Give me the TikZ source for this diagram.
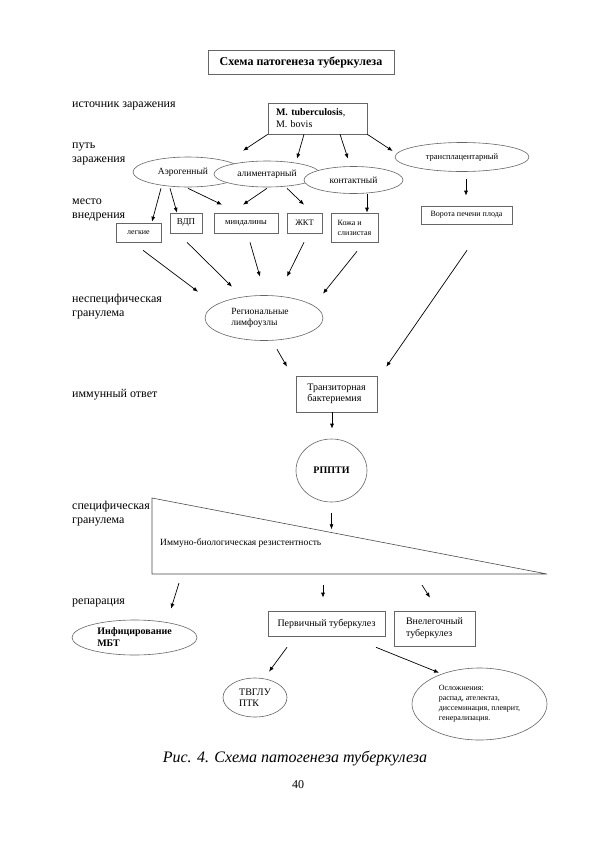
\documentclass[tikz,border=0pt]{standalone}
\usepackage{fontspec}
\setmainfont{Liberation Serif}
\usetikzlibrary{shapes.geometric,arrows.meta,calc}
\newcommand{\fsz}[2]{\fontsize{#1}{#2}\selectfont}
\begin{document}
\begin{tikzpicture}[x=1pt,y=-1pt,
  shp/.style={draw=black!60, line width=0.6pt, fill=white, inner sep=0pt},
  box/.style={shp, rectangle},
  ell/.style={shp, ellipse},
  arr/.style={-{Latex[length=5pt,width=4pt]}, line width=0.7pt},
  lbl/.style={anchor=west, inner sep=0pt, align=left, font=\fsz{12}{14}}]
\useasboundingbox[fill=white] (0,0) rectangle (594,841);

% title
\node[box, minimum width=186, minimum height=24, font=\bfseries\fsz{12}{14}] (title) at (301,62) {Схема патогенеза туберкулеза};

% left labels
\node[lbl] (l1) at (72,106) {источник заражения};
\node[lbl] (l2) at (72,154.5) {путь\\заражения};
\node[lbl] (l3) at (72,210) {место\\внедрения};
\node[lbl] (l4) at (72,306.5) {неспецифическая\\гранулема};
\node[lbl] (l5) at (72,395) {иммунный ответ};
\node[lbl] (l6) at (72,513.5) {специфическая\\гранулема};
\node[lbl] (l7) at (72,603) {репарация};

% source
\node[box, minimum width=99, minimum height=31, text width=83pt, align=left, inner xsep=8pt, font=\fsz{10}{12}] (m) at (317.5,118.5) {\textbf{M. tuberculosis}, \\M. bovis};

% routes
\node[ell, minimum width=110, minimum height=30, font=\fsz{9.5}{11}] (aer) at (188,172) {\hspace*{-10pt}Аэрогенный};
\node[ell, minimum width=106, minimum height=26, font=\fsz{9.5}{11}] (alim) at (267,174) {алиментарный};
\node[ell, minimum width=99, minimum height=27, font=\fsz{9.5}{11}] (kont) at (353.5,180) {контактный};
\node[ell, minimum width=134, minimum height=29, font=\fsz{8.5}{10}] (tr) at (462,157) {трансплацентарный};

% sites
\node[box, minimum width=45, minimum height=19, font=\fsz{8}{9.5}] (leg) at (138.5,232.5) {легкие};
\node[box, minimum width=32, minimum height=20, font=\fsz{9}{10.5}] (vdp) at (186,223) {ВДП};
\node[box, minimum width=64, minimum height=20, font=\fsz{8.5}{10}] (mind) at (246,223) {миндалины};
\node[box, minimum width=35, minimum height=20, font=\fsz{8.5}{10}] (zkt) at (304.5,223) {ЖКТ};
\node[box, minimum width=47, minimum height=29, align=left, font=\fsz{8}{10}] (koz) at (354.5,227.5) {Кожа и\\слизистая};
\node[box, minimum width=91, minimum height=18, font=\fsz{8}{9.5}] (vor) at (466.5,215) {Ворота печени плода};

% lymph nodes
\node[ell, minimum width=118, minimum height=45, align=left, font=\fsz{9.5}{11.5}] (rln) at (264,318) {\hspace*{-8pt}Региональные\\\hspace*{-8pt}лимфоузлы};

% bacteriemia
\node[box, minimum width=81, minimum height=36, align=left, font=\fsz{10}{11.5}] (trn) at (336.5,394) {Транзиторная\\бактериемия};

% RPPTI
\node[ell, minimum width=71, minimum height=63, font=\bfseries\fsz{10}{12}] (rp) at (331.5,470.5) {РППТИ};

% triangle
\coordinate (tri1) at (152,498);
\coordinate (tri2) at (547,574);
\coordinate (tri3) at (152,574);
\draw[draw=black!70, line width=0.6pt] (tri1) -- (tri2) -- (tri3) -- cycle;
\node[anchor=west, inner sep=0pt, font=\fsz{9.5}{11}] (ibr) at (160,543) {Иммуно-биологическая резистентность};

% outcomes
\node[ell, minimum width=125, minimum height=35, align=left, font=\bfseries\fsz{10}{12}] (inf) at (134.5,637.5) {Инфицирование\\МБТ};
\node[box, minimum width=117, minimum height=25, font=\fsz{10}{12}] (perv) at (326.5,623.5) {Первичный туберкулез};
\node[box, minimum width=81, minimum height=35, align=left, font=\fsz{10}{12}] (vne) at (434.5,628.5) {Внелегочный\\туберкулез};
\node[ell, minimum width=64, minimum height=39, align=left, font=\fsz{10}{11.5}] (tvg) at (255,697.5) {ТВГЛУ\\ПТК};
\node[ell, minimum width=135, minimum height=72, align=left, font=\fsz{8}{10}] (osl) at (479.5,704) {Осложнения:\\распад, ателектаз,\\диссеминация, плеврит,\\генерализация.};

% caption
\node[inner sep=0pt, font=\itshape\fsz{16}{18}] (cap) at (295,758) {Рис. 4. Схема патогенеза туберкулеза};
\node[inner sep=0pt, font=\fsz{12}{14}] (pg) at (298,785) {40};

% arrows
\draw[arr] (m.south west) -- ($(aer.north)+(55,-6)$);
\draw[arr] ($(m.south)+(-13.5,0)$) -- ($(alim.north)+(30,-2)$);
\draw[arr] ($(m.south)+(22.5,0)$) -- ($(kont.north)+(-5.5,-7.5)$);
\draw[arr] (m.south east) -- ($(tr.west)+(-2,-6)$);
\draw[arr] ($(aer.south)+(-27,1)$) -- ($(leg.north)+(13.5,-1)$);
\draw[arr] ($(aer.south)+(-18,1)$) -- ($(vdp.north)+(-9,0)$);
\draw[arr] ($(aer.south)+(0,1)$) -- ($(mind.north)+(-24,-8)$);
\draw[arr] ($(alim.south)+(0,1)$) -- ($(mind.north)+(-3,-8)$);
\draw[arr] ($(alim.south)+(20,1)$) -- ($(zkt.north)+(-0.5,-8)$);
\draw[arr] ($(kont.south)+(13.5,0)$) -- ($(koz.north)+(12.5,0)$);
\draw[arr] ($(tr.south)+(4,7.5)$) -- ($(vor.north)+(-0.5,-10)$);
\draw[arr] ($(leg.south)+(4.5,8)$) -- ($(rln.north)+(-66,-3.5)$);
\draw[arr] ($(vdp.south)+(1,9)$) -- ($(rln.north)+(-32,-8.5)$);
\draw[arr] ($(mind.south)+(4,9)$) -- ($(rln.north)+(-4,-18.5)$);
\draw[arr] ($(zkt.south)+(-0.5,9)$) -- ($(rln.north)+(23,-18.5)$);
\draw[arr] ($(koz.south)+(2.5,9)$) -- ($(rln.north)+(59,-1.5)$);
\draw[arr] ($(vor.south)+(0.5,26)$) -- ($(trn.north east)+(9,-9)$);
\draw[arr] ($(rln.south)+(13,8.5)$) -- ($(trn.north)+(-49.5,-9)$);
\draw[arr] ($(trn.south)+(-4.5,0)$) -- ($(rp.north)+(0.5,-10)$);
\draw[arr] ($(rp.south)+(0,11)$) -- ($(rp.south)+(0,27)$);
\draw[arr] ($(tri3)+(27,9)$) -- ($(inf.north)+(36.5,-11)$);
\draw[arr] ($(tri3)+(171,11)$) -- ($(perv.north)+(-3.5,-13)$);
\draw[arr] ($(tri3)+(270,11)$) -- ($(vne.north)+(-4.5,-13)$);
\draw[arr] ($(perv.south)+(-39.5,11)$) -- ($(tvg.north)+(14,-6)$);
\draw[arr] ($(perv.south)+(49.5,11)$) -- ($(osl.north)+(-40.5,5)$);
\end{tikzpicture}
\end{document}
